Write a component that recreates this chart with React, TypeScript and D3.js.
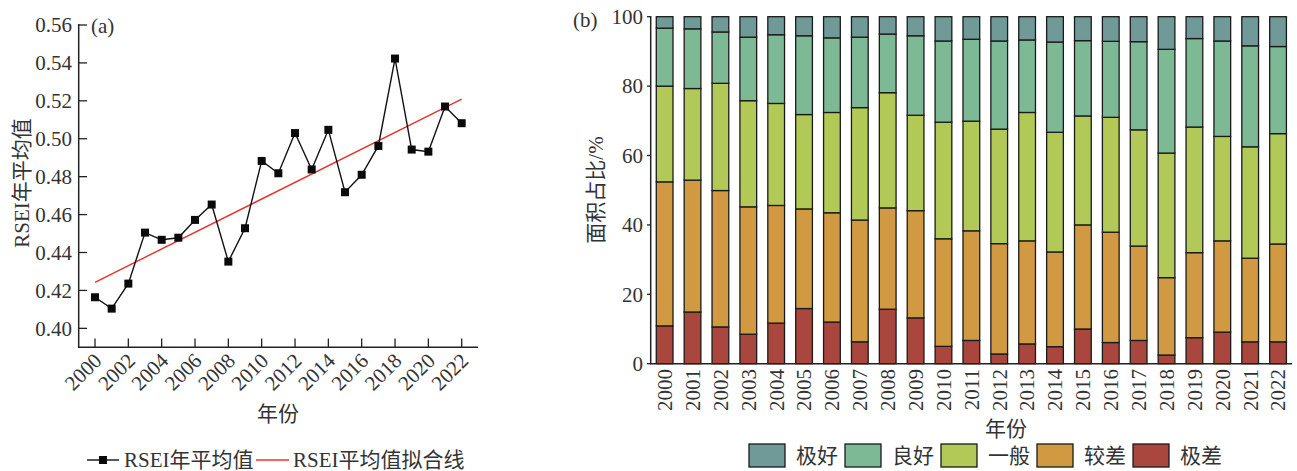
import React from 'react';
import * as d3 from 'd3';

// ---------- data ----------
const years = [2000, 2001, 2002, 2003, 2004, 2005, 2006, 2007, 2008, 2009, 2010, 2011, 2012, 2013, 2014, 2015, 2016, 2017, 2018, 2019, 2020, 2021, 2022];
const rseiMean = [0.4164, 0.4104, 0.4236, 0.4505, 0.4467, 0.4478, 0.4572, 0.4653, 0.4352, 0.4528, 0.4883, 0.4818, 0.5030, 0.4838, 0.5047, 0.4718, 0.4810, 0.4962, 0.5423, 0.4943, 0.4932, 0.5170, 0.5082];
const fitYears = [2000, 2022];
const fitValues = [0.4243, 0.5209];
const leftYTicks = [0.40, 0.42, 0.44, 0.46, 0.48, 0.50, 0.52, 0.54, 0.56];
const leftXTicks = [2000, 2002, 2004, 2006, 2008, 2010, 2012, 2014, 2016, 2018, 2020, 2022];

const legendNames = ['极好', '良好', '一般', '较差', '极差'];
const legendColors = ['#6f9a98', '#7db995', '#b2c957', '#d19a42', '#a9463e'];
const veryPoor = [10.9, 14.9, 10.6, 8.5, 11.7, 15.9, 12.0, 6.3, 15.7, 13.2, 5.0, 6.7, 2.8, 5.7, 4.9, 10.0, 6.1, 6.7, 2.5, 7.5, 9.1, 6.3, 6.3];
const poor = [41.5, 38.0, 39.3, 36.7, 33.9, 28.7, 31.5, 35.1, 29.2, 30.9, 31.0, 31.6, 31.8, 29.7, 27.3, 30.0, 31.8, 27.2, 22.3, 24.5, 26.3, 24.1, 28.2];
const moderate = [27.6, 26.4, 30.9, 30.6, 29.4, 27.2, 28.9, 32.4, 33.2, 27.5, 33.6, 31.6, 33.0, 37.0, 34.5, 31.4, 33.1, 33.5, 35.9, 36.2, 30.1, 32.1, 31.8];
const good = [16.7, 17.2, 14.8, 18.3, 19.8, 22.7, 21.5, 20.3, 16.9, 22.9, 23.4, 23.6, 25.4, 20.9, 26.0, 21.7, 21.9, 25.4, 29.9, 25.5, 27.5, 29.1, 25.1];
const excellent = [3.3, 3.5, 4.4, 5.9, 5.2, 5.5, 6.1, 5.9, 5.0, 5.5, 7.0, 6.5, 7.0, 6.7, 7.3, 6.9, 7.1, 7.2, 9.4, 6.3, 7.0, 8.4, 8.6];
const rightYTicks = [0, 20, 40, 60, 80, 100];

// ---------- style ----------
const FONT = "'Liberation Serif','Times New Roman','Noto Sans CJK SC',serif";
const TXT = '#333';
const AX = '#222';
const FS = 21;

export default function App() {
  // ----- left chart -----
  const xL = d3.scaleLinear().domain([2000, 2022]).range([95, 461.7]);
  const yL = d3.scaleLinear().domain([0.39, 0.56]).range([347.3, 25]);
  const lineGen = d3.line<number>().x((_, i) => xL(years[i])).y((d) => yL(d));
  const fitGen = d3.line<number>().x((_, i) => xL(fitYears[i])).y((d) => yL(d));

  // ----- right chart -----
  const keys = ['极差', '较差', '一般', '良好', '极好'];
  const table = years.map((y, i) => ({
    year: String(y),
    极差: veryPoor[i],
    较差: poor[i],
    一般: moderate[i],
    良好: good[i],
    极好: excellent[i],
  }));
  const stack = d3.stack<any>().keys(keys)(table);
  const xR = d3.scaleBand<string>().domain(years.map(String)).range([650.7, 1292]).paddingInner(0.4).paddingOuter(0.2);
  const yR = d3.scaleLinear().domain([0, 100]).range([363.7, 16.7]);
  const colorOf = (k: string) => legendColors[legendNames.indexOf(k)];

  return (
    <svg width={1297} height={471} style={{ position: 'absolute', left: 0, top: 0, background: '#fff' }} fontFamily={FONT}>
      {/* ===== LEFT (a) ===== */}
      <g>
        {/* axes */}
        <line x1={78.7} x2={78.7} y1={24} y2={347.3} stroke={AX} strokeWidth={1.5} />
        <line x1={78} x2={478} y1={347.3} y2={347.3} stroke={AX} strokeWidth={1.5} />
        {leftYTicks.map((t) => (
          <g key={t}>
            <line x1={78.7} x2={87} y1={yL(t)} y2={yL(t)} stroke={AX} strokeWidth={1.3} />
            <text x={72} y={yL(t)} dy="0.35em" textAnchor="end" fontSize={FS} fill={TXT}>
              {t.toFixed(2)}
            </text>
          </g>
        ))}
        {leftXTicks.map((t) => (
          <g key={t}>
            <line x1={xL(t)} x2={xL(t)} y1={347.3} y2={338.5} stroke={AX} strokeWidth={1.3} />
            <text
              transform={`translate(${xL(t) + 8},${362}) rotate(-45)`}
              textAnchor="end"
              fontSize={FS}
              fill={TXT}
            >
              {t}
            </text>
          </g>
        ))}
        <text x={91} y={33} fontSize={FS} fill={TXT}>(a)</text>
        <text x={278} y={421} textAnchor="middle" fontSize={FS} fill={TXT}>年份</text>
        <text transform={`translate(29,183) rotate(-90)`} textAnchor="middle" fontSize={FS} fill={TXT}>RSEI年平均值</text>

        {/* fit line */}
        <path d={fitGen(fitValues) || ''} fill="none" stroke="#e8312a" strokeWidth={1.4} />
        {/* series */}
        <path d={lineGen(rseiMean) || ''} fill="none" stroke="#111" strokeWidth={1.4} />
        {rseiMean.map((v, i) => (
          <rect key={i} x={xL(years[i]) - 4} y={yL(v) - 4} width={8} height={8} fill="#0a0a0a" />
        ))}

        {/* legend */}
        <line x1={87} x2={119} y1={460} y2={460} stroke="#111" strokeWidth={1.4} />
        <rect x={99} y={456} width={8} height={8} fill="#0a0a0a" />
        <text x={124} y={467} fontSize={FS} fill={TXT}>RSEI年平均值</text>
        <line x1={256} x2={289} y1={460} y2={460} stroke="#e8312a" strokeWidth={1.4} />
        <text x={293} y={467} fontSize={FS} fill={TXT}>RSEI平均值拟合线</text>
      </g>

      {/* ===== RIGHT (b) ===== */}
      <g>
        {stack.map((layer) => (
          <g key={layer.key} fill={colorOf(layer.key)}>
            {layer.map((d, i) => (
              <rect
                key={i}
                x={xR(d.data.year)}
                y={yR(d[1])}
                width={xR.bandwidth()}
                height={yR(d[0]) - yR(d[1])}
                stroke="#1a1a1a"
                strokeWidth={1.3}
              />
            ))}
          </g>
        ))}
        <line x1={650.7} x2={650.7} y1={16} y2={364} stroke={AX} strokeWidth={1.5} />
        <line x1={650} x2={1292} y1={363.7} y2={363.7} stroke={AX} strokeWidth={1.5} />
        {rightYTicks.map((t) => (
          <g key={t}>
            <line x1={647} x2={650.7} y1={yR(t)} y2={yR(t)} stroke={AX} strokeWidth={1.3} />
            <text x={643} y={yR(t)} dy="0.35em" textAnchor="end" fontSize={FS} fill={TXT}>
              {t}
            </text>
          </g>
        ))}
        {years.map((y) => (
          <text
            key={y}
            transform={`translate(${(xR(String(y)) || 0) + xR.bandwidth() / 2},${369}) rotate(-90)`}
            dy="0.35em"
            textAnchor="end"
            fontSize={FS}
            fill={TXT}
          >
            {y}
          </text>
        ))}
        <text x={573} y={27} fontSize={FS} fill={TXT}>(b)</text>
        <text transform={`translate(603,190) rotate(-90)`} textAnchor="middle" fontSize={FS} fill={TXT}>面积占比/%</text>
        <text x={1006} y={436} textAnchor="middle" fontSize={FS} fill={TXT}>年份</text>

        {legendNames.map((n, i) => {
          const x0 = 749 + i * 96;
          return (
            <g key={n}>
              <rect x={x0} y={444} width={36} height={23} fill={legendColors[i]} stroke="#1a1a1a" strokeWidth={1.3} />
              <text x={x0 + 47} y={463} fontSize={FS} fill={TXT}>{n}</text>
            </g>
          );
        })}
      </g>
    </svg>
  );
}
